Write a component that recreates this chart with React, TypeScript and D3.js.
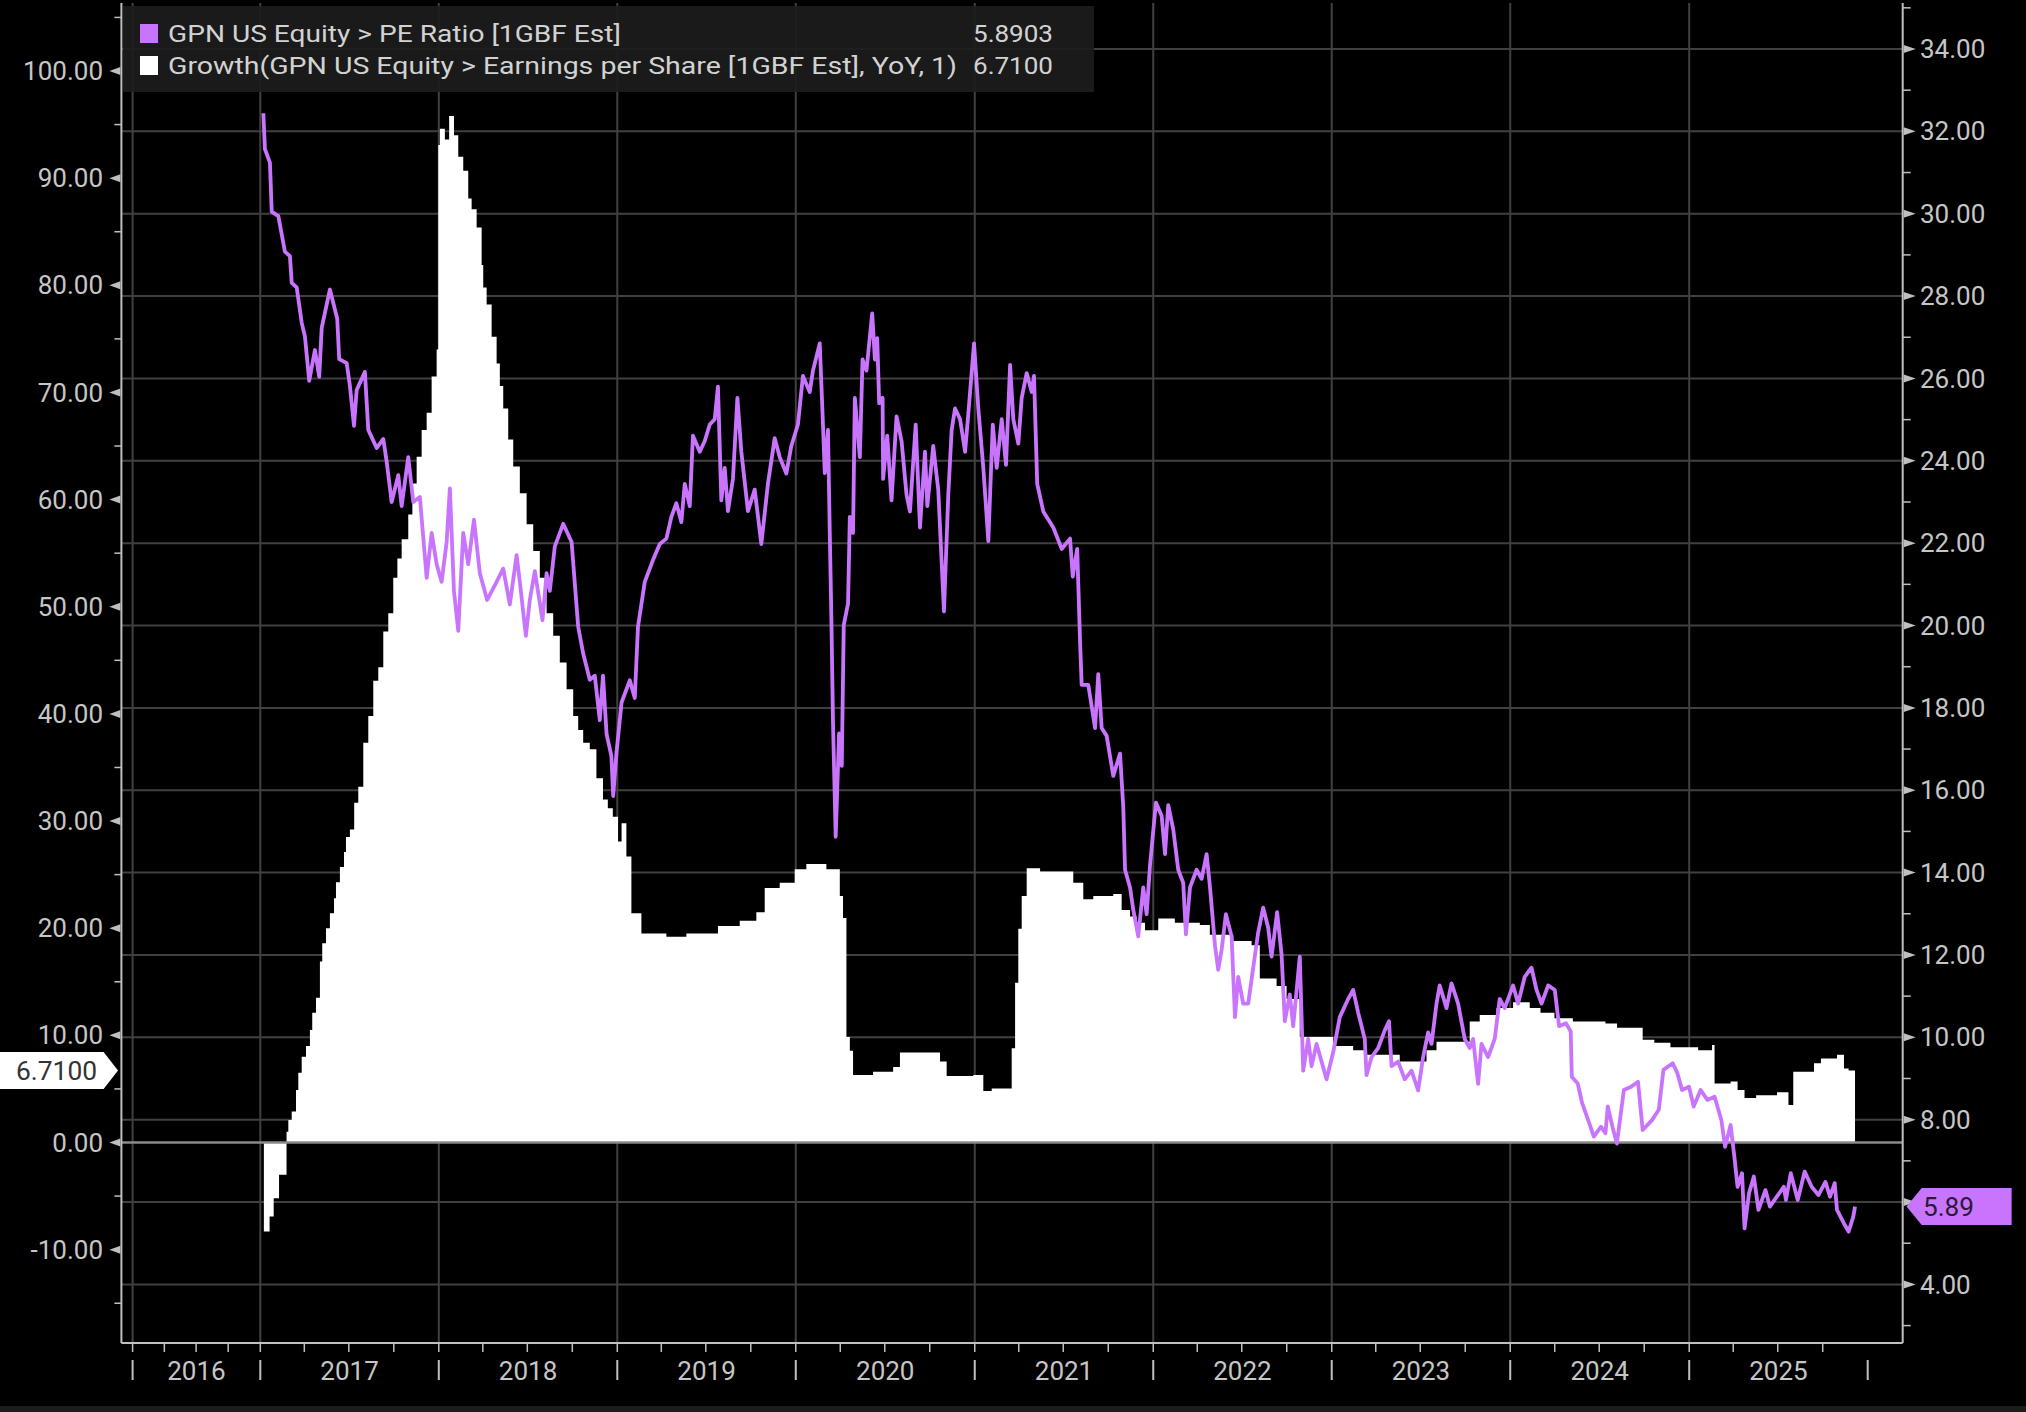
import React from "react";
import * as d3 from "d3";

// ---------- data ----------
const yearLabels = [2016, 2017, 2018, 2019, 2020, 2021, 2022, 2023, 2024, 2025];
const leftTickValues = [-10, 0, 10, 20, 30, 40, 50, 60, 70, 80, 90, 100];
const leftMinorValues = [-15, -5, 5, 15, 25, 35, 45, 55, 65, 75, 85, 95, 105];
const rightTickValues = [4, 6, 8, 10, 12, 14, 16, 18, 20, 22, 24, 26, 28, 30, 32, 34];
const rightMinorValues = [3, 5, 7, 9, 11, 13, 15, 17, 19, 21, 23, 25, 27, 29, 31, 33, 35];

const seriesNames = [
  "GPN US Equity > PE Ratio [1GBF Est]",
  "Growth(GPN US Equity > Earnings per Share [1GBF Est], YoY, 1)",
];
const lastPE = 5.8903;
const lastGrowth = 6.71;

// PE ratio (right axis): decimal year, value
const peYears = [
  2017.017, 2017.026, 2017.054, 2017.064, 2017.101, 2017.12, 2017.138, 2017.166, 2017.176, 2017.204,
  2017.232, 2017.25, 2017.274, 2017.306, 2017.33, 2017.344, 2017.39, 2017.431, 2017.442, 2017.484,
  2017.502, 2017.525, 2017.54, 2017.586, 2017.605, 2017.652, 2017.689, 2017.708, 2017.736, 2017.773,
  2017.792, 2017.829, 2017.857, 2017.894, 2017.913, 2017.932, 2017.96, 2017.988, 2018.016, 2018.044,
  2018.062, 2018.085, 2018.109, 2018.137, 2018.165, 2018.197, 2018.23, 2018.271, 2018.324, 2018.361,
  2018.398, 2018.436, 2018.454, 2018.488, 2018.51, 2018.538, 2018.581, 2018.604, 2018.622, 2018.65,
  2018.697, 2018.744, 2018.781, 2018.809, 2018.846, 2018.874, 2018.902, 2018.92, 2018.94, 2018.967,
  2018.977, 2018.996, 2019.024, 2019.07, 2019.098, 2019.116, 2019.154, 2019.2, 2019.238, 2019.275,
  2019.303, 2019.331, 2019.359, 2019.378, 2019.406, 2019.424, 2019.462, 2019.49, 2019.518, 2019.546,
  2019.564, 2019.583, 2019.602, 2019.62, 2019.648, 2019.673, 2019.695, 2019.732, 2019.77, 2019.807,
  2019.844, 2019.882, 2019.91, 2019.947, 2019.975, 2020.012, 2020.04, 2020.078, 2020.096, 2020.134,
  2020.152, 2020.162, 2020.18, 2020.19, 2020.199, 2020.208, 2020.223, 2020.242, 2020.257, 2020.268,
  2020.292, 2020.302, 2020.32, 2020.33, 2020.358, 2020.373, 2020.395, 2020.427, 2020.442, 2020.455,
  2020.466, 2020.485, 2020.488, 2020.511, 2020.535, 2020.563, 2020.591, 2020.619, 2020.638, 2020.67,
  2020.694, 2020.722, 2020.735, 2020.768, 2020.796, 2020.828, 2020.852, 2020.871, 2020.89, 2020.918,
  2020.946, 2020.964, 2020.996, 2021.02, 2021.048, 2021.076, 2021.101, 2021.123, 2021.151, 2021.175,
  2021.198, 2021.216, 2021.244, 2021.263, 2021.291, 2021.319, 2021.332, 2021.35, 2021.384, 2021.44,
  2021.487, 2021.534, 2021.549, 2021.574, 2021.59, 2021.599, 2021.636, 2021.674, 2021.692, 2021.711,
  2021.739, 2021.776, 2021.814, 2021.832, 2021.842, 2021.87, 2021.888, 2021.916, 2021.944, 2021.963,
  2021.982, 2022.015, 2022.047, 2022.066, 2022.084, 2022.112, 2022.14, 2022.168, 2022.183, 2022.206,
  2022.243, 2022.271, 2022.299, 2022.318, 2022.346, 2022.364, 2022.383, 2022.407, 2022.439, 2022.458,
  2022.476, 2022.504, 2022.532, 2022.56, 2022.588, 2022.616, 2022.644, 2022.663, 2022.694, 2022.719,
  2022.737, 2022.765, 2022.784, 2022.821, 2022.84, 2022.868, 2022.887, 2022.915, 2022.943, 2022.971,
  2023.008, 2023.045, 2023.092, 2023.12, 2023.148, 2023.185, 2023.195, 2023.223, 2023.26, 2023.297,
  2023.321, 2023.335, 2023.372, 2023.409, 2023.447, 2023.484, 2023.512, 2023.54, 2023.559, 2023.587,
  2023.605, 2023.643, 2023.671, 2023.708, 2023.745, 2023.773, 2023.792, 2023.82, 2023.839, 2023.876,
  2023.913, 2023.941, 2023.969, 2024.016, 2024.044, 2024.081, 2024.119, 2024.147, 2024.175, 2024.212,
  2024.249, 2024.273, 2024.312, 2024.338, 2024.344, 2024.377, 2024.402, 2024.442, 2024.467, 2024.507,
  2024.532, 2024.545, 2024.571, 2024.596, 2024.635, 2024.675, 2024.714, 2024.74, 2024.792, 2024.83,
  2024.856, 2024.908, 2024.934, 2024.96, 2024.999, 2025.025, 2025.064, 2025.102, 2025.142, 2025.18,
  2025.201, 2025.232, 2025.253, 2025.271, 2025.296, 2025.31, 2025.335, 2025.362, 2025.388, 2025.427,
  2025.452, 2025.491, 2025.53, 2025.542, 2025.569, 2025.608, 2025.647, 2025.686, 2025.724, 2025.763,
  2025.789, 2025.815, 2025.828, 2025.867, 2025.893, 2025.919, 2025.929,
];
const peValues = [
  32.44, 31.57, 31.24, 30.05, 29.94, 29.5, 29.08, 28.97, 28.32, 28.21,
  27.35, 27.02, 25.94, 26.69, 26.04, 27.23, 28.16, 27.45, 26.47, 26.37,
  25.82, 24.85, 25.72, 26.16, 24.75, 24.31, 24.53, 23.98, 23.0, 23.65,
  22.9, 24.09, 23.0, 23.12, 22.14, 21.16, 22.25, 21.49, 21.06, 22.03,
  23.33, 20.84, 19.87, 22.25, 21.49, 22.57, 21.27, 20.62, 21.06, 21.38,
  20.51, 21.71, 21.06, 19.75, 20.62, 21.32, 20.13, 21.27, 20.84, 21.92,
  22.47, 22.03, 19.97, 19.32, 18.68, 18.78, 17.7, 18.78, 17.37, 16.83,
  15.86, 16.93, 18.13, 18.67, 18.24, 19.97, 21.06, 21.59, 21.98, 22.11,
  22.64, 22.97, 22.51, 23.44, 22.9, 24.61, 24.22, 24.48, 24.88, 25.01,
  25.8, 23.04, 23.83, 22.78, 23.56, 25.53, 24.22, 22.78, 23.3, 21.98,
  23.44, 24.55, 24.09, 23.69, 24.36, 24.88, 26.06, 25.67, 26.19, 26.85,
  24.88, 23.7, 24.75, 22.25, 20.14, 17.64, 14.87, 17.38, 16.59, 20.01,
  20.53, 22.64, 22.25, 25.53, 24.09, 26.46, 26.19, 27.58, 26.46, 26.98,
  25.4, 25.53, 23.56, 24.61, 23.04, 25.08, 24.48, 23.17, 22.77, 24.88,
  22.38, 24.22, 22.9, 24.36, 23.3, 20.34, 23.17, 24.75, 25.27, 25.01,
  24.22, 25.14, 26.85, 25.27, 23.83, 22.05, 24.88, 23.83, 25.01, 23.9,
  26.33, 25.01, 24.42, 25.53, 26.13, 25.67, 26.06, 23.44, 22.77, 22.38,
  21.86, 22.11, 21.19, 21.86, 19.61, 18.56, 18.56, 17.51, 18.82, 17.51,
  17.32, 16.35, 16.89, 15.59, 14.07, 13.64, 13.1, 12.45, 13.64, 12.99,
  14.18, 15.7, 15.38, 14.45, 15.64, 15.05, 14.07, 13.75, 12.5, 13.64,
  14.07, 13.85, 14.45, 13.64, 12.23, 11.64, 12.12, 12.99, 12.45, 10.49,
  11.47, 10.82, 10.82, 11.69, 12.55, 13.15, 12.66, 11.96, 13.04, 12.01,
  10.39, 11.04, 10.27, 11.96, 9.19, 9.96, 9.3, 9.84, 9.41, 8.98,
  9.63, 10.49, 10.93, 11.15, 10.6, 9.96, 9.08, 9.52, 9.74, 10.17,
  10.39, 9.3, 9.41, 8.98, 9.19, 8.71, 9.52, 10.12, 9.84, 10.82,
  11.26, 10.71, 11.31, 10.82, 9.96, 9.74, 9.96, 8.87, 9.84, 9.52,
  9.96, 10.93, 10.71, 11.26, 10.82, 11.47, 11.69, 11.15, 10.82, 11.26,
  11.15, 10.27, 10.34, 10.14, 9.04, 8.88, 8.4, 7.91, 7.59, 7.83,
  7.67, 8.32, 7.83, 7.42, 8.72, 8.8, 8.92, 7.75, 7.99, 8.24,
  9.21, 9.37, 9.13, 8.72, 8.8, 8.32, 8.72, 8.48, 8.56, 7.99,
  7.34, 7.87, 7.1, 6.37, 6.7, 5.36, 6.21, 6.62, 5.81, 6.29,
  5.89, 6.13, 6.37, 6.05, 6.7, 6.05, 6.74, 6.37, 6.17, 6.49,
  6.13, 6.46, 5.81, 5.48, 5.28, 5.64, 5.89,
];

// EPS growth YoY (left axis): decimal year, value (step series)
const growthYears = [
  2017.02, 2017.052, 2017.075, 2017.105, 2017.147, 2017.157, 2017.176, 2017.2, 2017.213, 2017.232,
  2017.256, 2017.278, 2017.291, 2017.312, 2017.334, 2017.347, 2017.368, 2017.39, 2017.413, 2017.424,
  2017.446, 2017.469, 2017.48, 2017.502, 2017.526, 2017.549, 2017.577, 2017.605, 2017.633, 2017.661,
  2017.689, 2017.717, 2017.745, 2017.768, 2017.792, 2017.829, 2017.852, 2017.876, 2017.904, 2017.932,
  2017.96, 2017.988, 2017.997, 2018.006, 2018.034, 2018.058, 2018.085, 2018.109, 2018.137, 2018.165,
  2018.184, 2018.212, 2018.24, 2018.249, 2018.268, 2018.296, 2018.324, 2018.342, 2018.361, 2018.389,
  2018.417, 2018.454, 2018.492, 2018.529, 2018.566, 2018.604, 2018.641, 2018.678, 2018.716, 2018.753,
  2018.781, 2018.809, 2018.846, 2018.883, 2018.92, 2018.947, 2018.975, 2019.004, 2019.024, 2019.051,
  2019.079, 2019.135, 2019.275, 2019.387, 2019.564, 2019.686, 2019.779, 2019.826, 2019.91, 2019.994,
  2020.059, 2020.171, 2020.246, 2020.264, 2020.283, 2020.302, 2020.32, 2020.432, 2020.544, 2020.582,
  2020.806, 2020.843, 2020.992, 2021.048, 2021.095, 2021.207, 2021.226, 2021.244, 2021.263, 2021.291,
  2021.366, 2021.552, 2021.608, 2021.664, 2021.776, 2021.823, 2021.87, 2021.907, 2021.954, 2022.028,
  2022.121, 2022.261, 2022.317, 2022.448, 2022.551, 2022.597, 2022.691, 2022.747, 2022.821, 2023.008,
  2023.12, 2023.195, 2023.381, 2023.531, 2023.587, 2023.773, 2023.829, 2023.923, 2024.016, 2024.109,
  2024.169, 2024.247, 2024.35, 2024.532, 2024.597, 2024.74, 2024.805, 2024.895, 2025.05, 2025.128,
  2025.142, 2025.232, 2025.271, 2025.31, 2025.375, 2025.492, 2025.556, 2025.583, 2025.699, 2025.738,
  2025.828, 2025.867, 2025.893, 2025.929,
];
const growthValues = [
  -8.3, -6.9, -5.2, -3.0, 1.0, 2.1, 2.9, 4.9, 6.5, 8.0,
  9.0, 10.5, 12.1, 13.5, 16.9, 18.6, 20.0, 21.4, 22.8, 24.3,
  25.7, 27.1, 28.5, 29.2, 31.7, 33.2, 37.3, 39.8, 43.1, 44.35,
  47.7, 49.4, 52.7, 54.5, 56.3, 58.6, 61.5, 64.0, 66.5, 68.1,
  71.5, 74.0, 93.1, 94.6, 93.6, 95.8, 94.0, 92.0, 90.7, 88.1,
  87.1, 85.4, 81.9, 79.8, 78.2, 75.2, 72.7, 70.6, 68.5, 65.6,
  63.1, 60.6, 57.7, 55.2, 52.7, 49.4, 47.3, 44.8, 42.3, 39.8,
  38.5, 37.3, 36.7, 34.0, 32.0, 31.2, 30.4, 28.1, 29.8, 26.7,
  21.4, 19.5, 19.2, 19.5, 20.2, 20.7, 21.5, 23.75, 24.25, 25.5,
  26.0, 25.5, 23.0, 20.95, 9.85, 8.57, 6.3, 6.6, 7.05, 8.4,
  7.56, 6.2, 6.3, 4.8, 5.03, 8.8, 14.9, 19.95, 23.0, 25.6,
  25.3, 24.25, 22.7, 23.0, 23.2, 21.7, 21.1, 20.5, 19.8, 20.9,
  20.5, 20.3, 19.4, 18.8, 18.4, 15.3, 14.6, 13.4, 9.85, 9.0,
  8.6, 8.2, 7.55, 8.6, 9.4, 11.3, 11.9, 12.55, 13.1, 12.55,
  12.1, 11.6, 11.3, 11.1, 10.7, 9.6, 9.3, 8.9, 8.6, 9.1,
  5.5, 5.7, 4.9, 4.15, 4.4, 4.7, 3.5, 6.6, 7.4, 7.85,
  8.2, 6.9, 6.71, 6.71,
];

// ---------- helpers ----------
function fromYear(t: number): Date {
  const y = Math.floor(t);
  const start = new Date(y, 0, 1).getTime();
  const end = new Date(y + 1, 0, 1).getTime();
  return new Date(start + (t - y) * (end - start));
}

const FONT = "Roboto, 'DejaVu Sans', sans-serif";
const PURPLE = "#c874fd";
const AXIS = "#bfbfbf";
const GRID = "#404040";
const LABEL = "#c6c6c6";

export default function App() {
  const W = 2026;
  const H = 1412;
  const plotTop = 3;
  const plotBottom = 1343;
  const axisLeft = 121.4;
  const axisRight = 1902.7;

  const x = d3
    .scaleTime()
    .domain([new Date(2016, 0, 1), new Date(2017, 0, 1), new Date(2026, 0, 1)])
    .range([132.6, 260.3, 1867.7]);
  const yL = d3.scaleLinear().domain([0, 100]).range([1142.5, 71]);
  const yR = d3.scaleLinear().domain([4, 34]).range([1284.4, 49]);

  const pe = peYears.map((t, i) => ({ d: fromYear(t), v: peValues[i] }));
  const growth = growthYears.map((t, i) => ({ d: fromYear(t), v: growthValues[i] }));

  const peLine = d3
    .line<{ d: Date; v: number }>()
    .x((p) => x(p.d))
    .y((p) => yR(p.v));
  const growthArea = d3
    .area<{ d: Date; v: number }>()
    .curve(d3.curveStepAfter)
    .x((p) => x(p.d))
    .y0(yL(0))
    .y1((p) => yL(p.v));

  const yearStarts = d3.range(2016, 2027).map((y) => new Date(y, 0, 1));
  const quarterTicks: Date[] = [];
  for (let y = 2016; y <= 2025; y++) for (const m of [0, 3, 6, 9]) quarterTicks.push(new Date(y, m, 1));

  const f2raw = d3.format(".2f");
  const f2 = (v: number) => f2raw(v).replace("\u2212", "-");
  const f4 = d3.format(".4f");

  const yLast = yL(lastGrowth);
  const yPeLast = yR(lastPE);

  return (
    <svg
      width={W}
      height={H}
      viewBox={`0 0 ${W} ${H}`}
      style={{ position: "absolute", left: 0, top: 0, background: "#000" }}
      fontFamily={FONT}
    >
      <rect x={0} y={0} width={W} height={H} fill="#000" />

      {/* horizontal gridlines (right axis) */}
      {rightTickValues.map((v) => (
        <line key={"hg" + v} x1={axisLeft} x2={axisRight} y1={yR(v)} y2={yR(v)} stroke={GRID} strokeWidth={2} />
      ))}
      {/* vertical gridlines */}
      {yearStarts.slice(0, 10).map((d, i) => (
        <line key={"vg" + i} x1={x(d)} x2={x(d)} y1={plotTop} y2={plotBottom} stroke={GRID} strokeWidth={2} />
      ))}

      {/* EPS growth area */}
      <path d={growthArea(growth) || ""} fill="#ffffff" />

      {/* zero line */}
      <line x1={axisLeft} x2={axisRight} y1={yL(0)} y2={yL(0)} stroke="#8a8a8a" strokeWidth={2.5} />

      {/* PE line */}
      <path d={peLine(pe) || ""} fill="none" stroke={PURPLE} strokeWidth={3.8} strokeLinejoin="round" />

      {/* axes */}
      <line x1={axisLeft} x2={axisLeft} y1={plotTop} y2={plotBottom} stroke={AXIS} strokeWidth={2} />
      <line x1={axisRight} x2={axisRight} y1={plotTop} y2={plotBottom} stroke={AXIS} strokeWidth={2} />
      <line x1={axisLeft} x2={axisRight} y1={plotBottom} y2={plotBottom} stroke={AXIS} strokeWidth={2} />

      {/* left ticks */}
      {leftMinorValues.map((v) => (
        <line key={"lm" + v} x1={axisLeft - 7} x2={axisLeft} y1={yL(v)} y2={yL(v)} stroke={AXIS} strokeWidth={1.5} />
      ))}
      {leftTickValues.map((v) => (
        <g key={"lt" + v}>
          <path
            d={`M${axisLeft - 12},${yL(v)} L${axisLeft - 1},${yL(v) - 4} L${axisLeft - 1},${yL(v) + 4} Z`}
            fill={AXIS}
          />
          <text x={103} y={yL(v)} dy="0.35em" textAnchor="end" fontSize={26} fill={LABEL}>
            {f2(v)}
          </text>
        </g>
      ))}

      {/* right ticks */}
      {rightMinorValues.map((v) => (
        <line key={"rm" + v} x1={axisRight} x2={axisRight + 8} y1={yR(v)} y2={yR(v)} stroke={AXIS} strokeWidth={1.5} />
      ))}
      {rightTickValues.map((v) => (
        <g key={"rt" + v}>
          <path
            d={`M${axisRight + 1},${yR(v) - 4} L${axisRight + 13},${yR(v)} L${axisRight + 1},${yR(v) + 4} Z`}
            fill={AXIS}
          />
          {Math.abs(yR(v) - yPeLast) > 30 && (
            <text x={1920} y={yR(v)} dy="0.35em" textAnchor="start" fontSize={26} fill={LABEL}>
              {f2(v)}
            </text>
          )}
        </g>
      ))}

      {/* x axis ticks */}
      {quarterTicks.map((d, i) => (
        <line key={"qt" + i} x1={x(d)} x2={x(d)} y1={plotBottom} y2={plotBottom + 9} stroke={AXIS} strokeWidth={1.5} />
      ))}
      {yearStarts.map((d, i) => (
        <line key={"ys" + i} x1={x(d)} x2={x(d)} y1={1360} y2={1380} stroke={AXIS} strokeWidth={2} />
      ))}
      {yearLabels.map((y, i) => (
        <text
          key={"yl" + y}
          x={(x(yearStarts[i]) + x(yearStarts[i + 1])) / 2}
          y={1380}
          textAnchor="middle"
          fontSize={26}
          fill={LABEL}
        >
          {y}
        </text>
      ))}

      {/* legend */}
      <rect x={123} y={6} width={971} height={86} fill="#1c1c1c" fillOpacity={0.92} />
      <rect x={140} y={24} width={18} height={19} fill={PURPLE} />
      <rect x={140} y={56} width={18} height={19} fill="#ffffff" />
      <text x={168} y={41.5} fontSize={23.5} fill="#d2d2d2" textLength={453} lengthAdjust="spacingAndGlyphs">
        {seriesNames[0]}
      </text>
      <text x={168} y={74} fontSize={23.5} fill="#d2d2d2" textLength={789} lengthAdjust="spacingAndGlyphs">
        {seriesNames[1]}
      </text>
      <text x={973} y={41.5} fontSize={23.5} fill="#d2d2d2" textLength={80} lengthAdjust="spacingAndGlyphs">
        {f4(lastPE)}
      </text>
      <text x={973} y={74} fontSize={23.5} fill="#d2d2d2" textLength={80} lengthAdjust="spacingAndGlyphs">
        {f4(lastGrowth)}
      </text>

      {/* last value tags */}
      <path
        d={`M0,${yLast - 18.5} L103.6,${yLast - 18.5} L118,${yLast} L103.6,${yLast + 18.5} L0,${yLast + 18.5} Z`}
        fill="#ffffff"
      />
      <text x={16} y={yLast} dy="0.35em" fontSize={26} fill="#333333" textLength={81} lengthAdjust="spacingAndGlyphs">
        {f4(lastGrowth)}
      </text>
      <path
        d={`M1906.5,${yPeLast} L1921.7,${yPeLast - 18.5} L2011.6,${yPeLast - 18.5} L2011.6,${yPeLast + 18.5} L1921.7,${yPeLast + 18.5} Z`}
        fill={PURPLE}
      />
      <text x={1923} y={yPeLast} dy="0.35em" fontSize={26} fill="#2a1a38" textLength={51} lengthAdjust="spacingAndGlyphs">
        {f2(lastPE)}
      </text>

      {/* bottom strip */}
      <rect x={0} y={1406} width={W} height={6} fill="#1c1c1c" />
    </svg>
  );
}
